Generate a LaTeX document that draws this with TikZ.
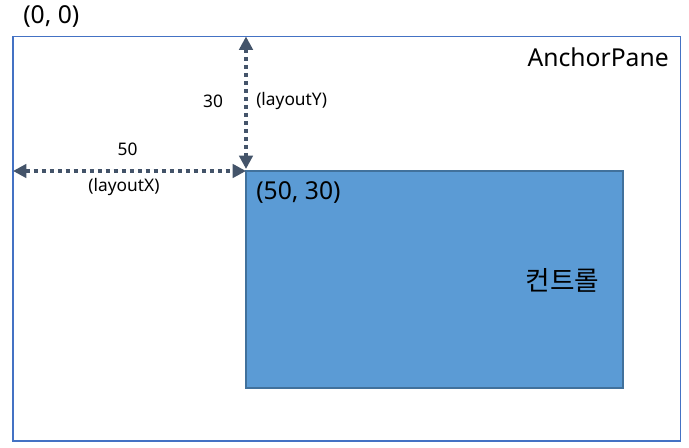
\documentclass[tikz,border=0pt]{standalone}
\usepackage{fontspec}
\setmainfont{Noto Sans}
\newfontfamily\krfont{Noto Sans CJK KR}
\usetikzlibrary{arrows.meta}
\definecolor{paneblue}{HTML}{4472C4}
\definecolor{ctrlfill}{HTML}{5B9BD5}
\definecolor{ctrldraw}{HTML}{41719C}
\definecolor{arrowc}{HTML}{44546A}
\begin{document}
\begin{tikzpicture}[x=0.75pt,y=-0.75pt,
  big/.style={font=\fontsize{18.5}{22}\selectfont, inner sep=0pt},
  small/.style={font=\fontsize{13}{16}\selectfont, inner sep=0pt},
  dimline/.style={draw=arrowc, line width=2.8pt, dash pattern=on 3pt off 3pt,
    {Triangle[length=10pt,width=10pt]}-{Triangle[length=10pt,width=10pt]}}]
\useasboundingbox (0,0) rectangle (689,448);
\node[draw=paneblue, line width=0.8pt, inner sep=0pt, outer sep=0pt,
  minimum width=500.6pt, minimum height=303.4pt, anchor=north west] (pane) at (13,36.5) {};
\node[draw=ctrldraw, fill=ctrlfill, line width=0.8pt, inner sep=0pt, outer sep=0pt,
  minimum width=282.75pt, minimum height=162.75pt, anchor=north west] (ctrl) at (246,171) {};
\draw[dimline] (pane.west |- ctrl.north west) -- (ctrl.north west);
\draw[dimline] (ctrl.north west |- pane.north) -- ([yshift=1.5pt]ctrl.north west);
\node[big, anchor=west] (origin) at (23,17) {(0, 0)};
\node[big, anchor=east] (panelabel) at (669,57) {AnchorPane};
\node[small] (ynum) at (213,101) {30};
\node[small, anchor=west] (ylab) at (256,101) {(layoutY)};
\node[small] (xnum) at (127.5,149) {50};
\node[small] (xlab) at (124,187) {(layoutX)};
\node[big, anchor=west] (corner) at (256,193) {(50, 30)};
\node[inner sep=0pt, font=\krfont\fontsize{20}{24}\selectfont] (ctrllabel) at (562.5,280) {컨트롤};
\end{tikzpicture}
\end{document}
